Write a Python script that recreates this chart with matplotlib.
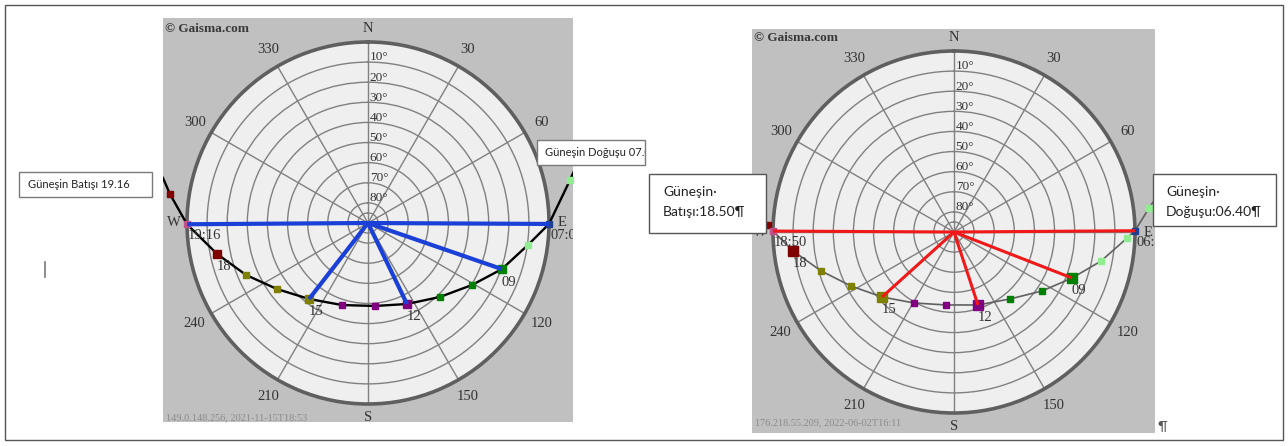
import numpy as np
import matplotlib
matplotlib.use('Agg')
import matplotlib.pyplot as plt
from matplotlib.patches import Rectangle
from matplotlib.lines import Line2D

W, H = 1288, 446

# Sun path, left chart (2021-11-15): azimuth / altitude in degrees, west end -> east end
nov_path_az = [282.4, 278.3, 269.6, 258.4, 246.9, 234.0, 217.8, 197.6, 175.2, 154.3,
               135.8, 120.8, 109.0, 97.8, 90.3, 78.0, 75.6]
nov_path_alt = [-14.4, -9.5, 0.0, 13.4, 24.1, 34.1, 42.2, 47.2, 48.6, 45.3,
                38.7, 29.8, 19.6, 9.7, 0.0, -12.7, -16.0]
nov_hours = ['20', 'set', '18', '17', '16', '15', '14', '13', '12', '11', '10', '09', '08', 'rise', '07']
nov_set, nov_rise = '19:16', '07:00'

# Sun path, right chart (2022-06-02)
jun_path_az = [279.6, 272.2, 270.3, 263.3, 253.7, 242.3, 227.9, 209.4, 186.3, 161.8,
               140.1, 123.8, 111.3, 101.2, 92.0, 89.6, 83.0, 79.7]
jun_path_alt = [-11.9, -2.5, 0.0, 9.4, 21.1, 32.2, 41.8, 49.5, 53.5, 51.8,
                46.6, 37.3, 27.0, 15.5, 3.9, 0.0, -7.7, -13.0]
jun_hours = ['19', 'set', '18', '17', '16', '15', '14', '13', '12', '11', '10', '09', '08', '07', 'rise', '06']
jun_set, jun_rise = '18:50', '06:40'

rays = ['set', 'rise', '09', '12', '15']
big_hours = ['09', '12', '15', '18']
spoke_az = list(range(0, 360, 30))
spoke_labels = ['N', '30', '60', 'E', '120', '150', 'S', '210', '240', 'W', '300', '330']
ring_alt = [10, 20, 30, 40, 50, 60, 70, 80]

hour_colors = {'20': '#800000', '19': '#800000', '18': '#800000', 'set': '#c0508a',
               '17': '#808000', '16': '#808000', '15': '#808000',
               '14': '#800080', '13': '#800080', '12': '#800080',
               '11': '#008000', '10': '#008000', '09': '#008000',
               '08': '#90ee90', '07': '#90ee90', '06': '#90ee90', 'rise': '#1f3f8f'}

SERIF = 'Liberation Serif'
SANS = ['Lato', 'DejaVu Sans']

fig = plt.figure(figsize=(W / 100, H / 100), dpi=100)
fig.patch.set_facecolor('white')


def box(x0, y0, x1, y1):
    return [x0 / W, 1 - y1 / H, (x1 - x0) / W, (y1 - y0) / H]


def sun_chart(bg_px, center, path_az, path_alt, hours, set_time, rise_time,
              credit, stamp, credit_px, stamp_px, ray_color, ray_lw, curve_color, curve_lw, ms):
    bg = fig.add_axes(box(*bg_px))
    bg.set_facecolor('#c0c0c0')
    bg.set_xticks([])
    bg.set_yticks([])
    for s in bg.spines.values():
        s.set_visible(False)

    cx, cy = center
    R = 181
    ax = fig.add_axes(box(cx - R, cy - R, cx + R, cy + R), projection='polar')
    ax.set_theta_zero_location('N')
    ax.set_theta_direction(-1)
    ax.set_ylim(0, 90)
    ax.set_facecolor('#efefef')
    ax.spines['polar'].set_color('#5f5f5f')
    ax.spines['polar'].set_linewidth(2.6)
    ax.set_xticks(np.radians(spoke_az))
    ax.set_yticks([5] + [90 - a for a in ring_alt])
    ax.set_xticklabels([])
    ax.set_yticklabels([])
    ax.tick_params(length=0)
    ax.grid(True, color='#808080', lw=1.0)

    th = np.radians(path_az)
    r = 90 - np.array(path_alt)
    line, = ax.plot(th, r, color=curve_color, lw=curve_lw, zorder=3)
    line.set_clip_path(bg.patch)

    pos = {}
    for i, h in enumerate(hours):
        t, rr = th[i + 1], r[i + 1]
        pos[h] = (t, rr)
        size = ms * 1.45 if h in big_hours else ms
        m, = ax.plot([t], [rr], marker='s', ms=size, color=hour_colors[h],
                     mec=hour_colors[h], ls='none', zorder=4)
        m.set_clip_path(bg.patch)

    for h in rays:
        t, rr = pos[h]
        ax.plot([t, t], [0, rr], color=ray_color, lw=ray_lw, zorder=5,
                solid_capstyle='butt')

    txt = dict(family=SERIF, color='#333333')
    for az, lab in zip(spoke_az, spoke_labels):
        rr = 96.5 if lab in 'NESW' else 99.5
        ax.text(np.radians(az), rr, lab, ha='center', va='center', fontsize=10.5, **txt)
    for a in ring_alt:
        ax.annotate(f'{a}°', xy=(0, 90 - a), xytext=(1.2, 1.2), textcoords='offset points',
                    ha='left', va='baseline', fontsize=9.5, annotation_clip=False, **txt)
    for h in big_hours:
        ax.annotate(h, xy=pos[h], xytext=(5, -9.3), textcoords='offset points',
                    ha='center', va='center', fontsize=10.5, annotation_clip=False, **txt)
    for h, lab in (('set', set_time), ('rise', rise_time)):
        a = ax.annotate(lab, xy=pos[h], xytext=(0.8, -8.2), textcoords='offset points',
                        ha='left', va='center', fontsize=10.5, annotation_clip=False, **txt)
        a.set_clip_on(True)
        a.set_clip_path(bg.patch)

    fig.text(credit_px[0] / W, 1 - credit_px[1] / H, credit, ha='left', va='center',
             fontsize=9.5, fontweight='bold', family=SERIF, color='#383838')
    fig.text(stamp_px[0] / W, 1 - stamp_px[1] / H, stamp, ha='left', va='center',
             fontsize=7.4, family=SERIF, color='#8c8c8c')


sun_chart((163, 18, 573, 422), (368, 223), nov_path_az, nov_path_alt, nov_hours,
          nov_set, nov_rise, '© Gaisma.com', '149.0.148.256, 2021-11-15T18:53',
          (165, 29), (166, 418), '#1a40d8', 3.0, 'black', 1.7, 4.2)
sun_chart((752, 29, 1155, 433), (954, 232), jun_path_az, jun_path_alt, jun_hours,
          jun_set, jun_rise, '© Gaisma.com', '176.218.55.209, 2022-06-02T16:11',
          (754, 38), (755, 423), '#f01818', 2.2, '#606060', 1.2, 5.0)


def text_box(x0, y0, x1, y1, lines, tx, ty, size, edge, clip=False):
    rect = Rectangle((x0 / W, 1 - y1 / H), (x1 - x0) / W, (y1 - y0) / H,
                     transform=fig.transFigure, facecolor='white', edgecolor=edge,
                     lw=1.0, zorder=10)
    fig.add_artist(rect)
    for k, s in enumerate(lines):
        t = fig.text(tx / W, 1 - (ty + 20 * k) / H, s, ha='left', va='center',
                     fontsize=size, family=SANS, color='#222222', zorder=11)
        if clip:
            t.set_clip_path(rect)


text_box(19, 172, 152, 197, ['Güneşin Batışı 19.16'], 28, 184.5, 8.0, '#7a7a7a')
text_box(537, 140, 645, 165, ['Güneşin Doğuşu 07.00'], 545, 153, 8.0, '#7a7a7a', clip=True)
text_box(649, 174, 766, 233, ['Güneşin·', 'Batışı:18.50¶'], 663, 192, 10, '#555555')
text_box(1153, 174, 1276, 226, ['Güneşin·', 'Doğuşu:06.40¶'], 1166, 192, 10, '#555555')

# page frame, cursor and paragraph mark
fig.add_artist(Rectangle((5 / W, 1 - 440 / H), 1278 / W, 435 / H, transform=fig.transFigure,
                         fill=False, edgecolor='#555555', lw=1.0, zorder=12))
fig.add_artist(Line2D([45 / W, 45 / W], [1 - 262 / H, 1 - 277 / H], transform=fig.transFigure,
                      color='#777777', lw=1.2))
fig.text(1157 / W, 1 - 426 / H, '¶', ha='left', va='center', fontsize=10,
         family=SANS, color='#555555')

fig.savefig('out.png', dpi=100)
